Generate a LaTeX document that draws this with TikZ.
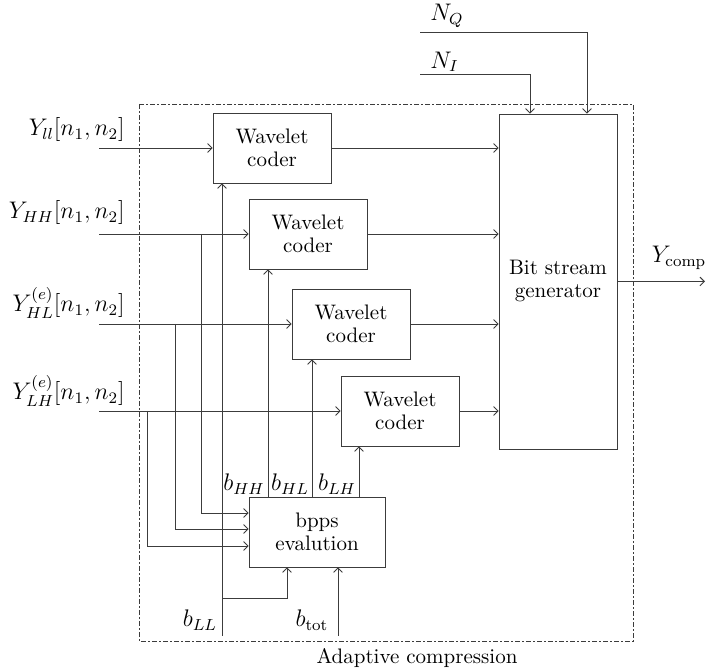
\documentclass[tikz,border=0pt]{standalone}
\usepackage{amsmath}
\usetikzlibrary{positioning,arrows.meta,calc}
\definecolor{linegray}{RGB}{60,60,60}
\tikzset{
  coder/.style = {draw=linegray, align=center, font=\fontsize{10.5}{11.5}\selectfont, minimum width=59pt, minimum height=35pt, inner sep=2pt},
  flow/.style  = {-{Straight Barb[length=2.2pt,width=4.4pt]}, draw=linegray, line width=0.45pt},
  lbl/.style   = {font=\fontsize{12}{14}\selectfont, inner sep=0pt},
  frame/.style = {draw=linegray, line width=0.45pt, dash pattern=on 2.5pt off 1.2pt on 0.6pt off 1.2pt},
}

\begin{document}
\begin{tikzpicture}[x=0.5pt, y=-0.5pt]
  \useasboundingbox (0,0) rectangle (724,672);
  % enclosing block
  \draw[frame] (139,104) rectangle (633,641);
  \node[font=\fontsize{10.5}{12}\selectfont] (title) at (417,658) {Adaptive compression};

  % coders
  \node[coder] (cLL) at (272,148) {Wavelet\\coder};
  \node[coder] (cHH) at (308,234) {Wavelet\\coder};
  \node[coder] (cHL) at (351,324) {Wavelet\\coder};
  \node[coder] (cLH) at (400,411) {Wavelet\\coder};
  \node[coder, minimum height=167.5pt] (bsg) at (558,281.5) {Bit stream\\generator};
  \node[coder, minimum width=68pt] (bpps) at (317,532) {bpps\\evalution};

  % subband inputs
  \coordinate (inLL) at (99,148);
  \coordinate (inHH) at (99,234);
  \coordinate (inHL) at (99,324);
  \coordinate (inLH) at (99,411);
  \node[lbl, anchor=east] (yLL) at (125,130) {$Y_{ll}[n_1,n_2]$};
  \node[lbl, anchor=east] (yHH) at (125,213) {$Y_{HH}[n_1,n_2]$};
  \node[lbl, anchor=east] (yHL) at (125,303) {$Y^{(e)}_{HL}[n_1,n_2]$};
  \node[lbl, anchor=east] (yLH) at (125,391) {$Y^{(e)}_{LH}[n_1,n_2]$};
  \draw[flow] (inLL) -- (cLL.west);
  \draw[flow] (inHH) -- (cHH.west);
  \draw[flow] (inHL) -- (cHL.west);
  \draw[flow] (inLH) -- (cLH.west);

  % taps to bpps
  \coordinate (tHH) at (201,234);
  \coordinate (tHL) at (175,324);
  \coordinate (tLH) at (147,411);
  \draw[flow] (tHH) |- ($(bpps.west)+(0,-19)$);
  \draw[flow] (tHL) |- ($(bpps.west)+(0,-3)$);
  \draw[flow] (tLH) |- ($(bpps.west)+(0,14)$);

  % coder outputs
  \foreach \c in {cLL,cHH,cHL,cLH}
    \draw[flow] (\c.east) -- (\c.east -| bsg.west);

  % bit rates
  \coordinate (bLL) at (222,636);
  \coordinate (bLLj) at (222,598);
  \coordinate (btot) at (338,636);
  \draw[flow] (bLL) -- (bLL |- cLL.south);
  \draw[flow] (bLLj) -| ($(bpps.south)+(-30,0)$);
  \draw[flow] (btot) -- (btot |- bpps.south);
  \node[lbl] (lLL) at (200,620) {$b_{LL}$};
  \node[lbl] (ltot) at (312,620) {$b_{\mathrm{tot}}$};

  \coordinate (oHH) at ($(bpps.north)+(-49,0)$);
  \coordinate (oHL) at ($(bpps.north)+(-5,0)$);
  \coordinate (oLH) at ($(bpps.north)+(42,0)$);
  \draw[flow] (oHH) -- (oHH |- cHH.south);
  \draw[flow] (oHL) -- (oHL |- cHL.south);
  \draw[flow] (oLH) -- (oLH |- cLH.south);
  \node[lbl] (lHH) at (244,484) {$b_{HH}$};
  \node[lbl] (lHL) at (290,484) {$b_{HL}$};
  \node[lbl] (lLH) at (337,484) {$b_{LH}$};

  % side inputs
  \coordinate (nQ) at (420,32);
  \coordinate (nI) at (420,74);
  \draw[flow] (nQ) -| ($(bsg.north)+(29,0)$);
  \draw[flow] (nI) -| ($(bsg.north)+(-28,0)$);
  \node[lbl, anchor=west] (lQ) at (430,16) {$N_Q$};
  \node[lbl, anchor=west] (lI) at (430,62) {$N_I$};

  % output
  \coordinate (yout) at (705,281.5);
  \draw[flow] (bsg.east) -- (yout);
  \node[lbl] (lout) at (679,258) {$Y_{\mathrm{comp}}$};
\end{tikzpicture}
\end{document}
